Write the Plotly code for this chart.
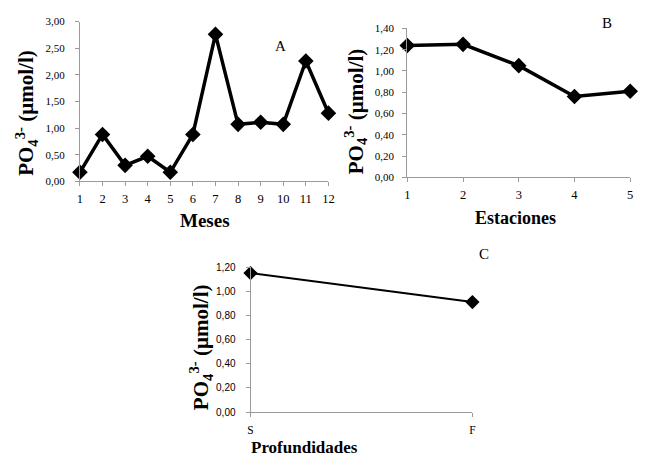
import plotly.graph_objects as go

# Phosphate concentration (PO4 3-, µmol/l) by month, station and depth
meses = [1, 2, 3, 4, 5, 6, 7, 8, 9, 10, 11, 12]
po4_meses = [0.17, 0.88, 0.30, 0.47, 0.17, 0.88, 2.76, 1.07, 1.11, 1.07, 2.26, 1.28]

estaciones = [1, 2, 3, 4, 5]
po4_estaciones = [1.24, 1.25, 1.05, 0.76, 0.81]

profundidades = ["S", "F"]
po4_profundidades = [1.15, 0.91]

ticks_a = [0, 0.5, 1.0, 1.5, 2.0, 2.5, 3.0]
ticks_a_text = ["0,00", "0,50", "1,00", "1,50", "2,00", "2,50", "3,00"]
ticks_b = [0, 0.2, 0.4, 0.6, 0.8, 1.0, 1.2, 1.4]
ticks_b_text = ["0,00", "0,20", "0,40", "0,60", "0,80", "1,00", "1,20", "1,40"]
ticks_c = [0, 0.2, 0.4, 0.6, 0.8, 1.0, 1.2]
ticks_c_text = ["0,00", "0,20", "0,40", "0,60", "0,80", "1,00", "1,20"]

W, H = 650, 462
SERIF = "Liberation Serif"
SANS = "Liberation Sans"
AXIS_GREY = "#9a9a9a"


def px_x(a, b):
    return [a / W, b / W]


def px_y(top, bottom):
    return [(H - bottom) / H, (H - top) / H]


fig = go.Figure()

fig.add_trace(go.Scatter(
    x=meses, y=po4_meses, mode="lines+markers", xaxis="x", yaxis="y",
    line=dict(color="black", width=3.5),
    marker=dict(symbol="diamond", size=12, color="black"),
    cliponaxis=False, showlegend=False))

fig.add_trace(go.Scatter(
    x=estaciones, y=po4_estaciones, mode="lines+markers", xaxis="x2", yaxis="y2",
    line=dict(color="black", width=3.5),
    marker=dict(symbol="diamond", size=12, color="black"),
    cliponaxis=False, showlegend=False))

fig.add_trace(go.Scatter(
    x=profundidades, y=po4_profundidades, mode="lines+markers", xaxis="x3", yaxis="y3",
    line=dict(color="black", width=2),
    marker=dict(symbol="diamond", size=11, color="black"),
    cliponaxis=False, showlegend=False))

common = dict(showgrid=False, zeroline=False, showline=True, linecolor=AXIS_GREY,
              linewidth=1, ticks="outside", ticklen=4, tickcolor=AXIS_GREY,
              fixedrange=True)

fig.update_layout(
    width=W, height=H,
    margin=dict(l=0, r=0, t=0, b=0),
    paper_bgcolor="white", plot_bgcolor="white",
    xaxis=dict(common, domain=px_x(78, 330), range=[1, 12], anchor="y",
               tickvals=meses, ticklabelstandoff=2,
               tickfont=dict(family=SERIF, size=12.5, color="black")),
    yaxis=dict(common, domain=px_y(16, 180), range=[0, 3], anchor="x",
               tickvals=ticks_a, ticktext=ticks_a_text, ticklabelstandoff=8,
               tickfont=dict(family=SERIF, size=11, color="black")),
    xaxis2=dict(common, domain=px_x(410, 636), range=[1, 5], anchor="y2",
                tickvals=estaciones, ticklabelstandoff=2,
                tickfont=dict(family=SERIF, size=12.5, color="black")),
    yaxis2=dict(common, domain=px_y(23, 176), range=[0, 1.4], anchor="x2",
                tickvals=ticks_b, ticktext=ticks_b_text, ticklabelstandoff=6,
                tickfont=dict(family=SERIF, size=11, color="black")),
    xaxis3=dict(common, domain=px_x(251, 476), type="category", range=[0, 1],
                anchor="y3", ticklabelstandoff=3,
                tickfont=dict(family=SERIF, size=11.5, color="black")),
    yaxis3=dict(common, domain=px_y(268, 417), range=[0, 1.2], anchor="x3",
                tickvals=ticks_c, ticktext=ticks_c_text, ticklabelstandoff=8,
                tickfont=dict(family=SANS, size=10, color="black")),
)

ytitle = "<b>PO<sub>4</sub><sup>3-</sup> (µmol/l)</b>"
title_font = dict(family=SERIF, size=21, color="black")


def note(text, x, y, font, angle=0):
    fig.add_annotation(text=text, x=x / W, y=(H - y) / H, xref="paper", yref="paper",
                       showarrow=False, textangle=angle, font=font,
                       xanchor="center", yanchor="middle")


# Y-axis titles
note(ytitle, 23, 110, title_font, angle=-90)
note(ytitle, 357, 108, title_font, angle=-90)
note(ytitle, 201, 350, title_font, angle=-90)

# X-axis titles
note("<b>Meses</b>", 205, 220, dict(family=SERIF, size=19, color="black"))
note("<b>Estaciones</b>", 520, 218, dict(family=SERIF, size=18, color="black"))
note("<b>Profundidades</b>", 306, 453, dict(family=SERIF, size=17, color="black"))

# Panel letters
letter_font = dict(family=SERIF, size=15, color="black")
note("A", 281, 41, letter_font)
note("B", 612, 17, letter_font)
note("C", 488, 255, letter_font)

fig.write_html("out.html")
